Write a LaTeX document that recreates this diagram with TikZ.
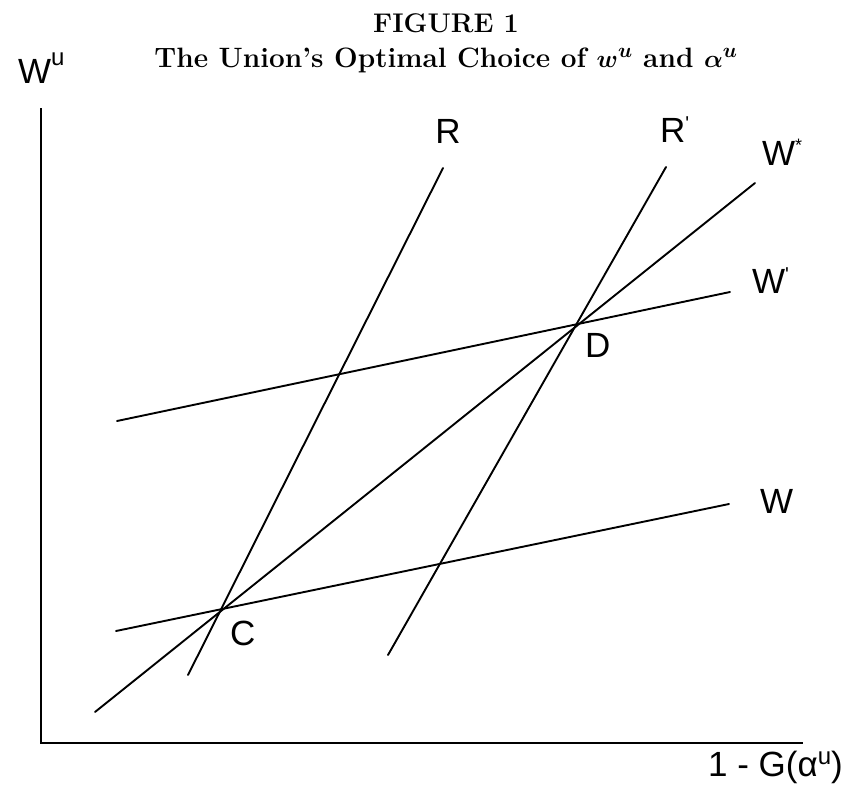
\documentclass[tikz,border=0pt]{standalone}
\usepackage{fontspec}
\newfontfamily\lblfont{Liberation Sans}
\begin{document}
\begin{tikzpicture}[x=1pt,y=-1pt,
  curve/.style={line width=1.9pt,line cap=round},
  axis/.style={line width=2.6pt},
  lbl/.style={font=\lblfont\fontsize{35}{40}\selectfont,inner sep=0pt},
  ttl/.style={font=\fontsize{27}{30}\selectfont\bfseries\boldmath,inner sep=0pt}]
\useasboundingbox (0,0) rectangle (845,790);
% axes
\coordinate (ytop) at (41,108);
\coordinate (orig) at (41,743);
\coordinate (xend) at (803,743);
\draw[axis] (ytop) -- (orig) -- (xend);
% line end points
\coordinate (Ra) at (188,675);  \coordinate (Rb) at (443,168);
\coordinate (Rpa) at (388,655); \coordinate (Rpb) at (666,167);
\coordinate (Wsa) at (95,712);  \coordinate (Wsb) at (755,183);
\coordinate (Wpa) at (117,421); \coordinate (Wpb) at (730,292);
\coordinate (Wa) at (116,631);  \coordinate (Wb) at (729,504);
\draw[curve] (Ra) -- (Rb);
\draw[curve] (Rpa) -- (Rpb);
\draw[curve] (Wsa) -- (Wsb);
\draw[curve] (Wpa) -- (Wpb);
\draw[curve] (Wa) -- (Wb);
% labels
\node[ttl,anchor=base] (fig) at (446,32) {FIGURE 1};
\node[ttl,anchor=base] (sub) at (446,67) {\fontsize{28}{30}\selectfont The Union's Optimal Choice of $w^u$ and $\alpha^u$};
\node[lbl,anchor=base west] (ylab) at (18,83) {W\raisebox{18pt}{\fontsize{24}{26}\selectfont u}};
\node[lbl,anchor=base east] (xlab) at (843,776) {1 - G(α\raisebox{12pt}{\fontsize{24}{26}\selectfont u})};
\node[lbl,anchor=base] (lR) at (448,143) {R};
\node[lbl,anchor=base west] (lRp) at (660,142) {R\raisebox{12pt}{\fontsize{20}{22}\selectfont '}};
\node[lbl,anchor=base west] (lWs) at (762,165) {W\raisebox{14pt}{\fontsize{18}{20}\selectfont *}};
\node[lbl,anchor=base west] (lWp) at (752,293) {W\raisebox{12pt}{\fontsize{20}{22}\selectfont '}};
\node[lbl,anchor=base west] (lW) at (760,513) {W};
\node[lbl,anchor=base west] (lC) at (230,645) {C};
\node[lbl,anchor=base west] (lD) at (585,357) {D};
\end{tikzpicture}
\end{document}
